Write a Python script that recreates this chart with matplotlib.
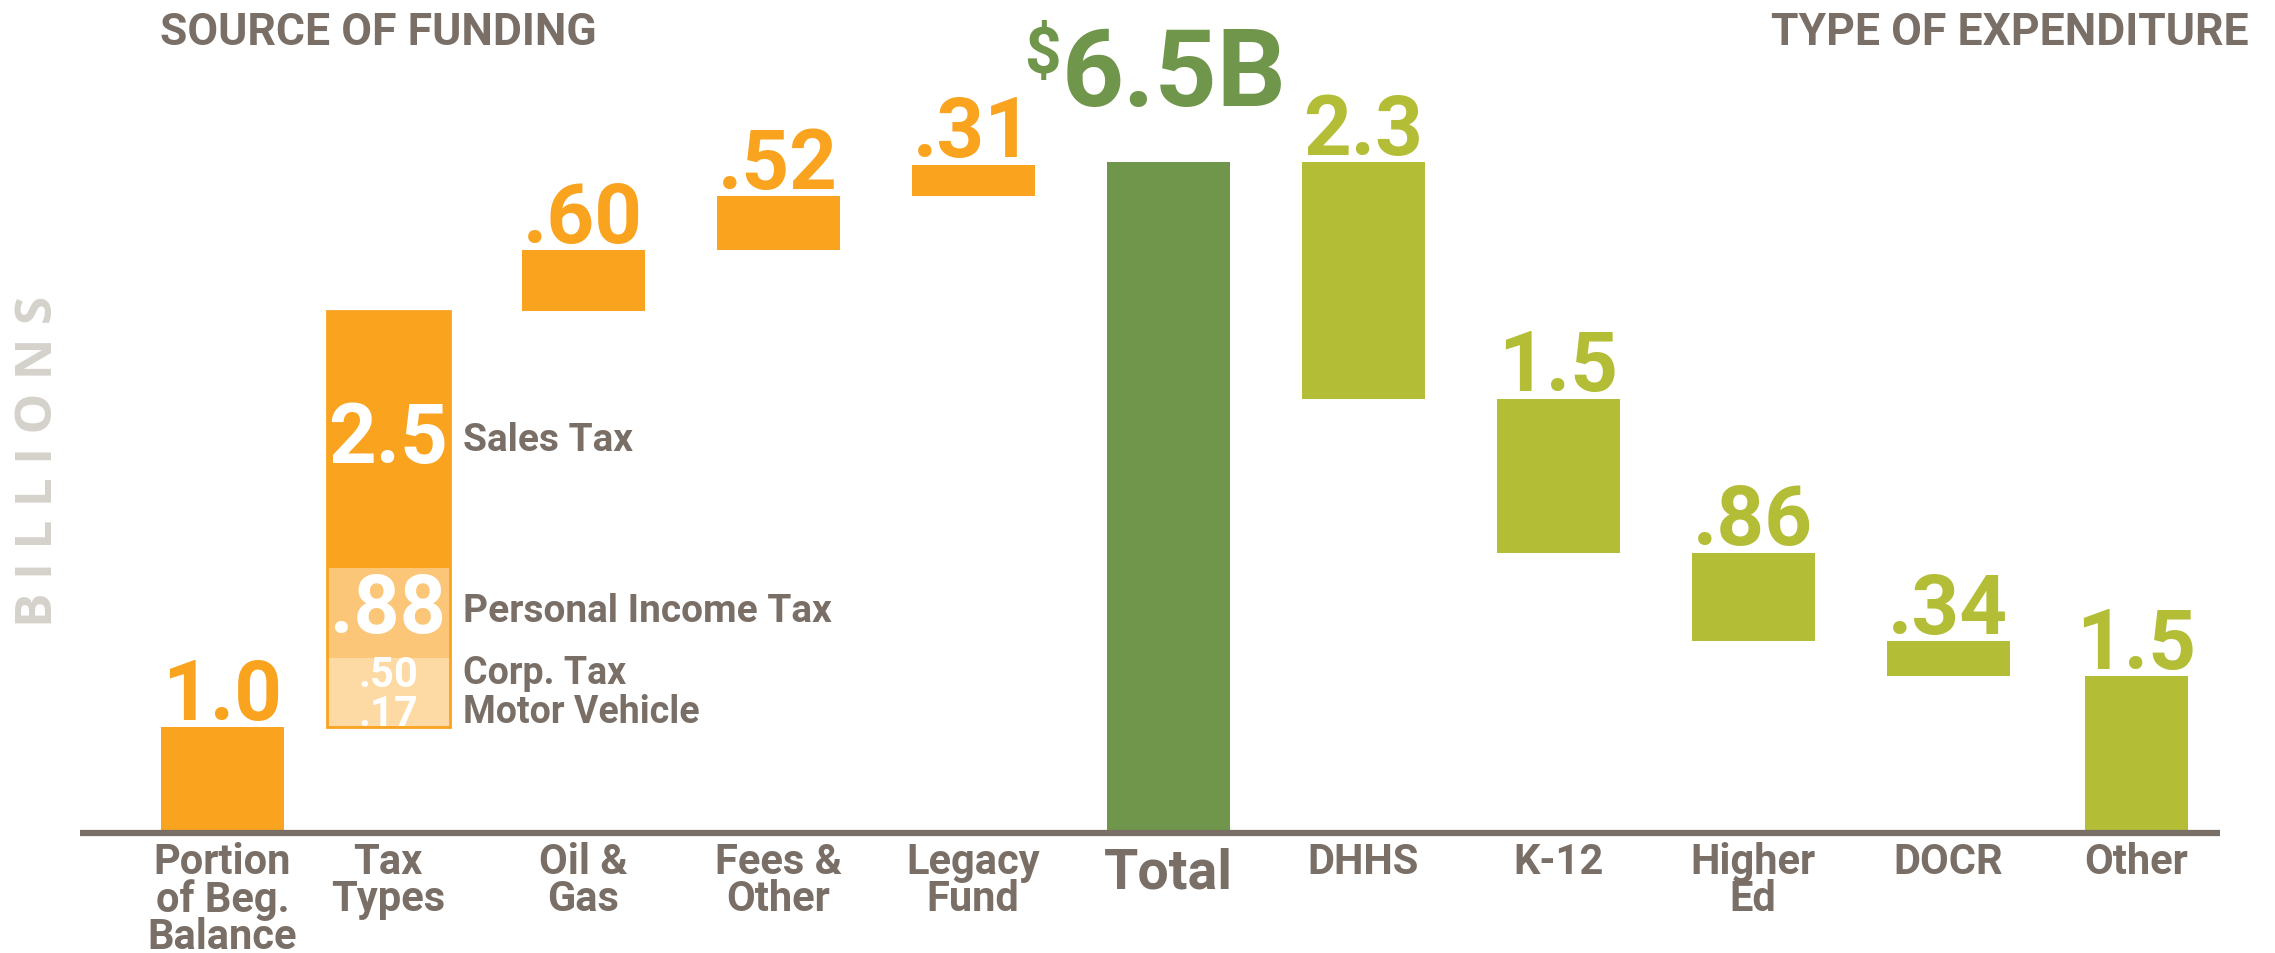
import matplotlib.pyplot as plt
import numpy as np
from matplotlib.patches import Rectangle

# data (billions)
categories = ["Portion\nof Beg.\nBalance", "Tax\nTypes", "Oil &\nGas", "Fees &\nOther",
              "Legacy\nFund", "Total", "DHHS", "K-12", "Higher\nEd", "DOCR", "Other"]
beg_balance = 1.0
tax_names = ["Motor Vehicle", "Corp. Tax", "Personal Income Tax", "Sales Tax"]
tax_values = [0.17, 0.50, 0.88, 2.5]
other_sources = [0.60, 0.52, 0.31]
total = 6.5
spend_values = [2.3, 1.5, 0.86, 0.34, 1.5]

ORANGE = "#F9A31F"
PIT_C = "#FBC677"
LIGHT_C = "#FDDAA3"
GREEN = "#6F964A"
LIME = "#B3BE36"
GRAY = "#7A6F67"
FONT = ["Roboto", "DejaVu Sans"]
plt.rcParams["font.family"] = FONT


def fmt(v):
    return f"{v:.1f}" if v >= 1 else f"{v:.2f}"[1:]


fig = plt.figure(figsize=(22.75, 9.54), dpi=100)
ax = fig.add_axes([0, 0, 1, 1])
# pixel layout: index 0 at 193px, 195px per slot; y=0 at 123px from bottom, 102.7px per billion
ax.set_xlim(-193.1 / 195, (2275 - 193.1) / 195)
ax.set_ylim(-123 / 102.7, (954 - 123) / 102.7)
ax.axis("off")

x = np.arange(len(categories), dtype=float)
x[0] += 0.15
x[-1] -= 0.035
w = 0.63
lab_gap = 0.08

# sources
src_vals = [beg_balance, sum(tax_values)] + other_sources
src_bottoms = np.concatenate([[0], np.cumsum(src_vals)[:-1]])
ax.bar(x[0], beg_balance, w, color=ORANGE)
# tax types stacked
seg_colors = [LIGHT_C, LIGHT_C, PIT_C, ORANGE]
b = src_bottoms[1]
seg_bottoms = b + np.concatenate([[0], np.cumsum(tax_values)[:-1]])
ax.bar([x[1]] * 4, tax_values, w, bottom=seg_bottoms, color=seg_colors, linewidth=0)
ax.add_patch(Rectangle((x[1] - w / 2, b), w, sum(tax_values), fill=False,
                       edgecolor=ORANGE, lw=2, zorder=3))
ax.bar(x[2:5], other_sources, w, bottom=src_bottoms[2:], color=ORANGE)

for i in [0, 2, 3, 4]:
    top = src_bottoms[i] + src_vals[i]
    ax.text(x[i], top + lab_gap, fmt(src_vals[i]), ha="center", va="baseline",
            fontsize=60, fontweight="bold", color=ORANGE)

# labels inside tax bar (small segments stacked by hand, big ones centred)
sales_mid = seg_bottoms[3] + tax_values[3] / 2
pit_mid = seg_bottoms[2] + tax_values[2] / 2 + 0.03
side_x = x[1] + w / 2 + 0.07
ax.text(x[1], sales_mid, fmt(tax_values[3]), ha="center", va="center",
        fontsize=60, fontweight="bold", color="white")
ax.text(side_x, sales_mid, tax_names[3], ha="left", va="center",
        fontsize=28, fontweight="bold", color=GRAY)
ax.text(x[1], pit_mid, fmt(tax_values[2]), ha="center", va="center",
        fontsize=58, fontweight="bold", color="white")
ax.text(side_x, pit_mid, tax_names[2], ha="left", va="center",
        fontsize=28, fontweight="bold", color=GRAY)
for v, base, name in zip(tax_values[:2], [b + 0.02, b + 0.40], tax_names[:2]):
    ax.text(x[1], base, fmt(v), ha="center", va="baseline", fontsize=30,
            fontweight="bold", color="white")
    ax.text(side_x, base + 0.03, name, ha="left", va="baseline",
            fontsize=27, fontweight="bold", color=GRAY)

# total
ax.bar(x[5], total, w, color=GREEN)
t = ax.text(x[5] + 0.03, total + 0.56, "6.5B", ha="center", va="baseline",
            fontsize=78, fontweight="bold", color=GREEN)

# expenditures
spend_bottoms = total - np.cumsum(spend_values)
widths = [w] * 4 + [0.53]
ax.bar(x[6:], spend_values, widths, bottom=spend_bottoms, color=LIME)
for xi, v, bt in zip(x[6:], spend_values, spend_bottoms):
    ax.text(xi, bt + v + lab_gap, fmt(v), ha="center", va="baseline",
            fontsize=60, fontweight="bold", color=LIME)

# baseline
ax.hlines(-0.03, x[0] - 0.73, x[-1] + 0.43, color=GRAY, lw=4.5, zorder=4)

# category labels
for xi, c in zip(x, categories):
    big = c == "Total"
    ax.text(xi, -0.11 if not big else -0.16, c, ha="center", va="top",
            fontsize=40 if big else 30, fontweight="bold", color=GRAY,
            linespacing=0.88)

# titles
fig.text(160 / 2275, 1 - 12 / 954, "SOURCE OF FUNDING", ha="left", va="top",
         fontsize=32, fontweight="bold", color=GRAY)
fig.text(2249 / 2275, 1 - 12 / 954, "TYPE OF EXPENDITURE", ha="right", va="top",
         fontsize=32, fontweight="bold", color=GRAY)
fig.text(39 / 2275, 1 - 461 / 954, "B I L L I O N S", rotation=90, ha="center",
         va="center", fontsize=37, fontweight="bold", color="#D5D2CC",
         family=["Open Sans", "DejaVu Sans"])

# dollar sign left of 6.5B
fig.canvas.draw()
bb = t.get_window_extent()
fig.text((bb.x0 - 1) / 2275, bb.y1 / 954, "$", ha="right", va="top",
         fontsize=46, fontweight="bold", color=GREEN)

fig.savefig("out.png", dpi=100)
